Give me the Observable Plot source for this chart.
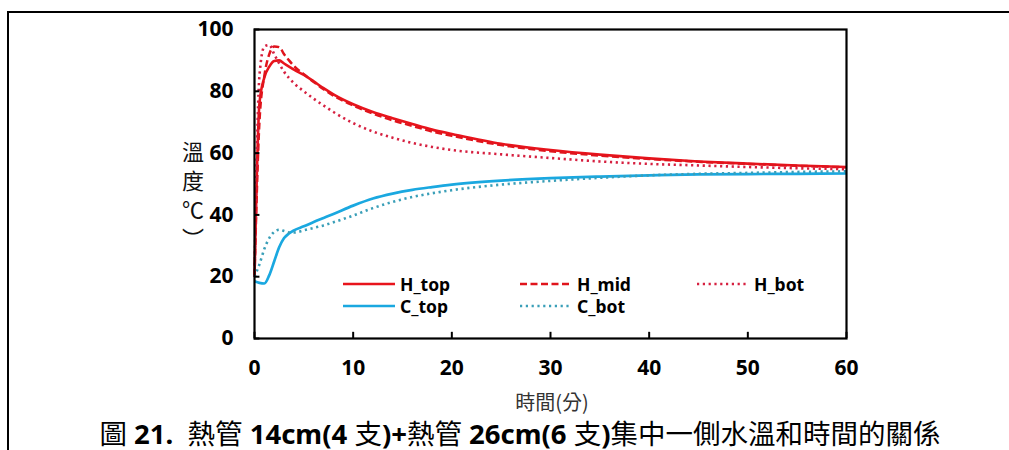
<!DOCTYPE html>
<html><head><meta charset="utf-8">
<script src="https://cdn.jsdelivr.net/npm/d3@7"></script>
<script src="https://cdn.jsdelivr.net/npm/@observablehq/plot@0.6"></script>
<style>
body{margin:0;background:#fff;}
#wrap{position:relative;width:1009px;height:450px;overflow:hidden;background:#fff;font-family:"Noto Sans","Noto Sans CJK TC",sans-serif;}
#wrap svg.plot{position:absolute;left:0;top:0;}
.bt{position:absolute;left:8px;top:11px;width:1001px;height:2px;background:#000;}
.bl{position:absolute;left:7px;top:11px;width:2px;height:439px;background:#000;}
.ylab{position:absolute;left:180px;top:136px;width:26px;font-family:"Noto Sans CJK TC",sans-serif;font-size:22px;line-height:29px;text-align:center;color:#111;}
.xlab{position:absolute;left:0;width:1104px;top:391px;height:21px;line-height:21px;text-align:center;font-family:"Noto Sans CJK TC",sans-serif;font-size:20px;color:#333;}
.title{position:absolute;left:0;width:1040px;top:418px;height:28px;line-height:28px;text-align:center;font-family:"Noto Sans CJK TC",sans-serif;font-size:27.5px;color:#000;white-space:pre;font-weight:400;}
.title b{font-family:"Noto Sans",sans-serif;font-weight:700;}
.leg{position:absolute;font-family:"Noto Sans",sans-serif;font-weight:700;font-size:17.5px;color:#000;display:flex;align-items:center;}
.leg svg{margin-right:5px;}
</style></head><body><div id="wrap"><div class="bt"></div><div class="bl"></div></div>
<script>
// time in minutes
const time  = [0,0.5,1,1.5,2,2.5,3,3.5,4,5,6,7,8,10,12,14,16,18,20,25,30,35,40,45,50,55,60];
const H_top = [20,76,84.5,88,89.8,90,89,88,87,85.3,83.2,81,79,75.8,73.3,71.3,69.4,67.6,66.2,63,61,59.5,58.3,57.3,56.6,56,55.5];
const H_mid = [20,70,85,92,94.5,94.3,92,90,88.2,85.5,83,80.7,78.6,75.4,72.8,70.6,68.8,67,65.6,62.6,60.6,59.2,58.1,57.2,56.5,55.9,55.4];
const H_bot = [20,85,94.5,95,92,89,86.3,84.3,82.6,80,77.6,75.4,73.3,69.7,67,65,63.3,62,61,59.6,58.4,57.3,56.5,56,55.5,55.1,54.8];
const C_top = [18.5,18,17.8,20.5,25,29.5,32.5,34,35,36.3,37.7,39,40.3,43,45.3,46.9,48.1,49,49.8,51.1,51.9,52.4,52.8,53.1,53.2,53.3,53.4];
const C_bot = [20,24,29,32.5,34.5,35.2,34.8,34.3,34.3,35,35.8,36.6,37.6,39.8,42.2,44.2,45.8,47,48,49.8,51,52,52.8,53.3,53.6,53.9,54.1];
const xTicks = [0,10,20,30,40,50,60];
const yTicks = [0,20,40,60,80,100];
const seriesNames = ["H_top","H_mid","H_bot","C_top","C_bot"];
const yLabel = ["溫","度","℃","︶"];
const xLabel = "時間(分)";
const titleParts = [["圖",0],[" 21.  ",1],["熱管",0],[" 14cm(4 ",1],["支",0],[")+",1],["熱管",0],[" 26cm(6 ",1],["支",0],[")",1],["集中一側水溫和時間的關係",0]];

const seriesValues = {H_top, H_mid, H_bot, C_top, C_bot};
const styles = {
  H_top:{stroke:"#e8141c", strokeWidth:2.6},
  H_mid:{stroke:"#e0141c", strokeWidth:2.5, strokeDasharray:"7,3.5"},
  H_bot:{stroke:"#d62040", strokeWidth:2.6, strokeDasharray:"2.2,3.6"},
  C_top:{stroke:"#1aa8e0", strokeWidth:2.7},
  C_bot:{stroke:"#3a9fb8", strokeWidth:2.6, strokeDasharray:"2.2,3.6"}
};
const rows = name => time.map((t,i)=>({t, v: seriesValues[name][i]}));

const plot = Plot.plot({
  width:1009, height:450,
  marginLeft:254, marginRight:163, marginTop:29, marginBottom:112,
  x:{domain:[0,60]}, y:{domain:[0,100]},
  style:{fontFamily:"'Noto Sans',sans-serif", fontWeight:"700", fontSize:"21px", color:"#000", background:"transparent", overflow:"visible"},
  marks:[
    ...seriesNames.map(n => Plot.line(rows(n), {x:"t", y:"v", ...styles[n], curve:"monotone-x", strokeLinejoin:"round", strokeLinecap:"butt"})),
    Plot.ruleY(yTicks, {y:d=>d, x1:0, x2:0.55, stroke:"#000", strokeWidth:2}),
    Plot.ruleX(xTicks, {x:d=>d, y1:0, y2:2, stroke:"#000", strokeWidth:2}),
    Plot.frame({stroke:"#000", strokeWidth:2.2}),
    Plot.axisY({ticks:yTicks, tickSize:0, tickPadding:21, label:null, fontSize:21}),
    Plot.axisX({ticks:xTicks, tickSize:0, tickPadding:22, label:null, fontSize:21})
  ]
});
plot.classList.add("plot");
const wrap = document.getElementById("wrap");
wrap.appendChild(plot);

const yl = document.createElement("div"); yl.className="ylab";
yl.innerHTML = yLabel.map(c=>`<div>${c}</div>`).join("");
wrap.appendChild(yl);
const xl = document.createElement("div"); xl.className="xlab"; xl.textContent = xLabel; wrap.appendChild(xl);
const tt = document.createElement("div"); tt.className="title";
tt.innerHTML = titleParts.map(([s,b])=> b ? `<b>${s}</b>` : s).join("");
wrap.appendChild(tt);

// legend: 3 columns, 2 rows
const legCols = [343, 520, 697];
const legRows = [284, 306];
seriesNames.forEach((n,i)=>{
  const col = i<3 ? i : i-3, row = i<3 ? 0 : 1;
  const d = document.createElement("div"); d.className="leg";
  d.style.left = legCols[col]+"px"; d.style.top = (legRows[row]-11)+"px"; d.style.height="22px";
  const s = styles[n];
  d.innerHTML = `<svg width="52" height="8"><line x1="0" x2="52" y1="4" y2="4" stroke="${s.stroke}" stroke-width="${s.strokeWidth}" ${s.strokeDasharray?`stroke-dasharray="${s.strokeDasharray}"`:""}/></svg><span>${n}</span>`;
  wrap.appendChild(d);
});
</script>
</body></html>
